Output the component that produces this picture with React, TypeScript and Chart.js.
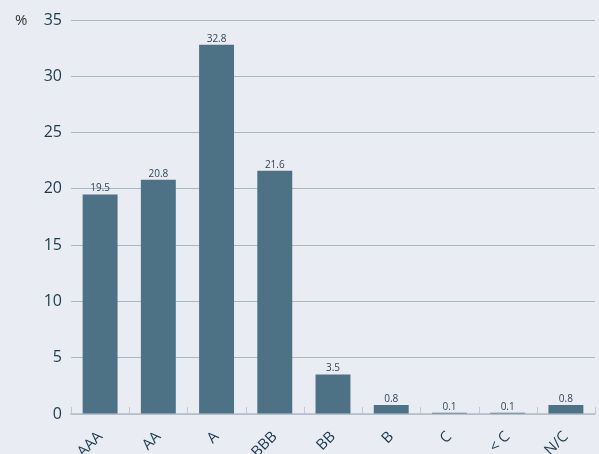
import React, { useEffect, useRef } from "react";
import { Chart, registerables } from "chart.js";

Chart.register(...registerables);

const categories = ["AAA", "AA", "A", "BBB", "BB", "B", "C", "< C", "N/C"];
const values = [19.5, 20.8, 32.8, 21.6, 3.5, 0.8, 0.1, 0.1, 0.8];
const valueLabels = ["19.5", "20.8", "32.8", "21.6", "3.5", "0.8", "0.1", "0.1", "0.8"];
const yMax = 35;
const yStep = 5;
const unitLabel = "%";

const BG = "#E9EDF3";
const BAR = "#4D7286";
const TEXT = "#1E3A4E";
const GRID = "#A9B6C4";
const AXIS = "#BFC7D0";
const FONT = "'Open Sans', 'Noto Sans', sans-serif";

const decorPlugin = {
  id: "decor",
  beforeDraw(chart: any) {
    const { ctx, width, height } = chart;
    ctx.save();
    ctx.fillStyle = BG;
    ctx.fillRect(0, 0, width, height);
    ctx.restore();
  },
  afterDatasetsDraw(chart: any) {
    const { ctx, chartArea } = chart;
    const x = chart.scales.x;
    const y = chart.scales.y;
    ctx.save();
    ctx.strokeStyle = AXIS;
    ctx.lineWidth = 1;
    const n = categories.length;
    const step = x.getPixelForValue(1) - x.getPixelForValue(0);
    for (let i = 0; i <= n; i++) {
      const px = x.getPixelForValue(0) - step / 2 + i * step;
      const xx = Math.round(px) + 0.5;
      ctx.beginPath();
      ctx.moveTo(xx, chartArea.bottom);
      ctx.lineTo(xx, chartArea.bottom - 7);
      ctx.stroke();
    }
    ctx.fillStyle = "#2C4658";
    ctx.font = `10px ${FONT}`;
    ctx.textAlign = "center";
    ctx.textBaseline = "bottom";
    const meta = chart.getDatasetMeta(0);
    meta.data.forEach((bar: any, i: number) => {
      ctx.fillText(valueLabels[i], bar.x, bar.y - 1);
    });
    ctx.fillStyle = "#333";
    ctx.font = `15px ${FONT}`;
    ctx.textAlign = "left";
    ctx.textBaseline = "middle";
    ctx.fillText(unitLabel, 15, y.getPixelForValue(yMax) + 1);
    ctx.restore();
  },
};

export default function App() {
  const ref = useRef<HTMLCanvasElement>(null);
  useEffect(() => {
    document.body.style.margin = "0";
    document.body.style.background = BG;
    const chart = new Chart(ref.current!, {
      type: "bar",
      data: {
        labels: categories,
        datasets: [
          {
            data: values,
            backgroundColor: BAR,
            barPercentage: 0.6,
            categoryPercentage: 1,
          },
        ],
      },
      options: {
        animation: false,
        responsive: false,
        maintainAspectRatio: false,
        layout: { padding: { top: 20, right: 4, left: 0, bottom: 0 } },
        plugins: {
          legend: { display: false },
          tooltip: { enabled: false },
          title: { display: false },
        },
        scales: {
          x: {
            grid: { display: false, drawTicks: false },
            border: { display: true, color: AXIS, width: 1.5 },
            ticks: {
              color: TEXT,
              font: { family: FONT, size: 15 },
              maxRotation: 45,
              minRotation: 45,
              padding: 14,
            },
            afterFit(scale: any) {
              scale.height = 40;
            },
          },
          y: {
            min: 0,
            max: yMax,
            grid: { color: GRID, drawTicks: false, lineWidth: 1 },
            border: { display: false },
            ticks: {
              stepSize: yStep,
              color: TEXT,
              font: { family: FONT, size: 16 },
              padding: 9,
            },
            afterFit(scale: any) {
              scale.width = 71;
            },
          },
        },
      },
      plugins: [decorPlugin],
    });
    return () => chart.destroy();
  }, []);
  return <canvas ref={ref} width={599} height={454} style={{ display: "block" }} />;
}
